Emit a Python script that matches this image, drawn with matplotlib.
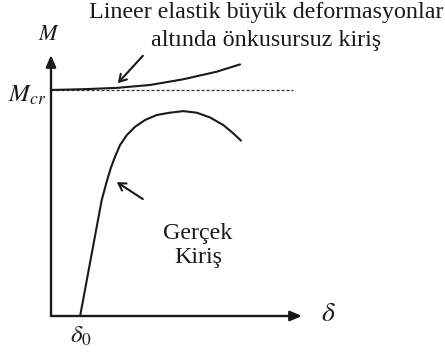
import matplotlib
matplotlib.use("Agg")
import matplotlib.pyplot as plt

plt.rcParams["font.family"] = ["Liberation Serif", "DejaVu Serif"]
plt.rcParams["mathtext.fontset"] = "stix"

# Moment–deflection sketch: delta on x, M on y (arbitrary units, 0..10 axes)
M_CR = 8.66
DELTA_0 = 1.16
DASH_END = 9.64

# ideal beam under large elastic deformations
ideal_delta = [0.0, 1.29, 2.62, 3.94, 5.27, 6.60, 7.53]
ideal_m = [8.66, 8.69, 8.74, 8.85, 9.07, 9.36, 9.64]

# real (imperfect) beam
real_delta = [1.16, 2.02, 2.22, 2.38, 2.55, 2.75, 3.02, 3.35, 3.75, 4.21,
              4.74, 5.27, 5.80, 6.33, 6.86, 7.26, 7.57]
real_m = [0.00, 4.44, 5.15, 5.66, 6.10, 6.55, 6.93, 7.25, 7.51, 7.70,
          7.79, 7.85, 7.79, 7.61, 7.32, 7.00, 6.72]

W, H = 445, 356
fig = plt.figure(figsize=(W / 100, H / 100), dpi=100)
ax = fig.add_axes([51 / W, 40 / H, 251 / W, 261 / H])
ax.set_xlim(0, 10)
ax.set_ylim(0, 10)
ax.axis("off")

ink = "#1a1a1a"

# axes with filled arrowheads
axis_style = dict(arrowstyle="-|>,head_length=0.7,head_width=0.3",
                  color=ink, lw=1.7, shrinkA=0, shrinkB=0)
ax.annotate("", xy=(10, 0), xytext=(0, 0), arrowprops=axis_style,
            annotation_clip=False)
ax.annotate("", xy=(0, 10), xytext=(0, 0), arrowprops=axis_style,
            annotation_clip=False)

# critical moment level
ax.plot([0, DASH_END], [M_CR, M_CR], color="#333333", lw=0.9,
        dashes=(2.5, 1.5), clip_on=False)

line_style = dict(color=ink, lw=1.5, clip_on=False,
                  solid_capstyle="round", solid_joinstyle="round")
ax.plot(ideal_delta, ideal_m, **line_style)
ax.plot(real_delta, real_m, **line_style)

# pointer arrows
ptr = dict(arrowstyle="->,head_length=0.5,head_width=0.3", color=ink,
           lw=1.5, shrinkA=0, shrinkB=0)
ax.annotate("", xy=(2.66, 8.92), xytext=(3.66, 9.97), arrowprops=ptr,
            annotation_clip=False)
ax.annotate("", xy=(2.62, 5.13), xytext=(3.66, 4.48), arrowprops=ptr,
            annotation_clip=False)

# labels
ax.text(-0.08, 10.73, "$M$", fontsize=16, ha="center", va="center",
        color=ink, clip_on=False)
ax.text(-0.2, 8.47, "$M_{cr}$", fontsize=18, ha="right", va="center",
        color=ink, clip_on=False)
ax.text(11.04, 0.04, r"$\delta$", fontsize=20, ha="center", va="center",
        color=ink, clip_on=False)
ax.text(DELTA_0 + 0.04, -0.77, r"$\delta_0$", fontsize=18, ha="center",
        va="center", color=ink, clip_on=False)

ax.text(8.57, 11.61, "Lineer elastik büyük deformasyonlar", fontsize=17.3,
        ha="center", va="center", color=ink, clip_on=False)
ax.text(8.57, 10.57, "altında önkusursuz kiriş", fontsize=17.3,
        ha="center", va="center", color=ink, clip_on=False)
ax.text(5.86, 3.18, "Gerçek", fontsize=17.3, ha="center", va="center",
        color=ink, clip_on=False)
ax.text(5.86, 2.26, "Kiriş", fontsize=17.3, ha="center", va="center",
        color=ink, clip_on=False)

fig.savefig("out.png", dpi=100, facecolor="white")
